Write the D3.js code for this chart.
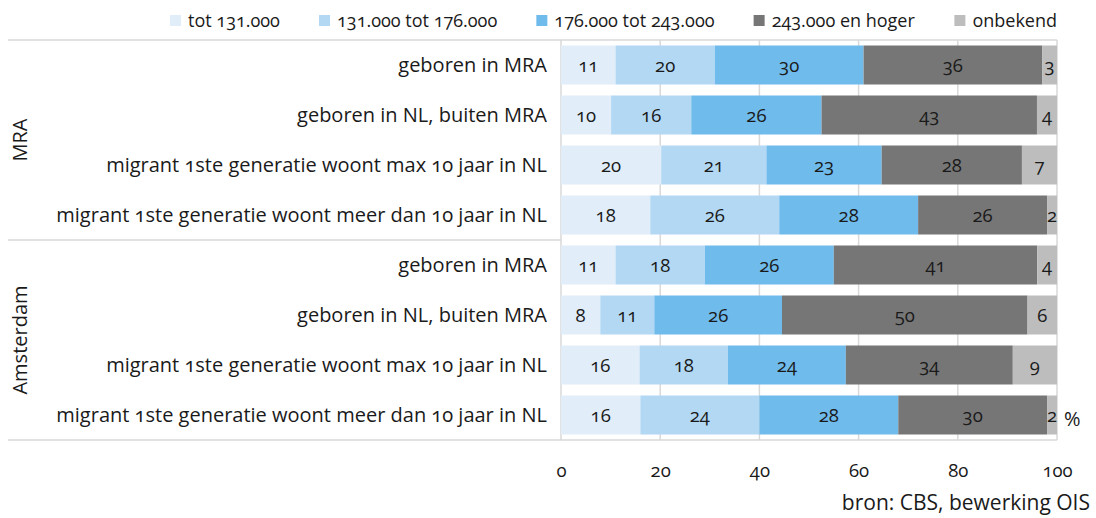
<!DOCTYPE html>
<html>
<head>
<meta charset="utf-8">
<script src="https://cdn.jsdelivr.net/npm/d3@7"></script>
<style>
body { margin: 0; background: #fff; }
svg text { font-family: "Open Sans", Lato, sans-serif; font-variant-ligatures: none; font-variant-numeric: oldstyle-nums; fill: #1a1a1a; }
</style>
</head>
<body>
<div id="chart"></div>
<script>
"use strict";

let groups = ["MRA", "Amsterdam"];
let categories = [
	"geboren in MRA",
	"geboren in NL, buiten MRA",
	"migrant 1ste generatie woont max 10 jaar in NL",
	"migrant 1ste generatie woont meer dan 10 jaar in NL"
];
let seriesNames = ["tot 131.000", "131.000 tot 176.000", "176.000 tot 243.000", "243.000 en hoger", "onbekend"];
let seriesColors = ["#e1eefa", "#b3d8f3", "#6fbbec", "#767676", "#bdbdbd"];

// one row per group+category, values per series (percent)
let valuesMRA = [
	[11, 20, 30, 36, 3],
	[10, 16, 26, 43, 4],
	[20, 21, 23, 28, 7],
	[18, 26, 28, 26, 2]
];
let valuesAmsterdam = [
	[11, 18, 26, 41, 4],
	[8, 11, 26, 50, 6],
	[16, 18, 24, 34, 9],
	[16, 24, 28, 30, 2]
];
let xTicks = [0, 20, 40, 60, 80, 100];

let width = 1096, height = 518;
let margin = { top: 40, right: 39, bottom: 78, left: 561 };
let labelSize = 20, numberSize = 18.5, legendSize = 18;

let rows = [];
[valuesMRA, valuesAmsterdam].forEach(function(vals, g)
{
	vals.forEach(function(v, i)
	{
		let row = { key: g + "-" + i, group: groups[g], label: categories[i] };
		seriesNames.forEach(function(s, j) { row[s] = v[j]; });
		rows.push(row);
	});
});

let svg = d3.select("#chart").append("svg")
	.attr("width", width)
	.attr("height", height);

let x = d3.scaleLinear().domain([0, 1]).range([margin.left, width - margin.right]);
let y = d3.scaleBand().domain(rows.map(function(d) { return d.key; }))
	.range([margin.top, height - margin.bottom])
	.paddingInner(0.22).paddingOuter(0.11);

let stack = d3.stack().keys(seriesNames).offset(d3.stackOffsetExpand);
let stacked = stack(rows);

// gridlines
svg.append("g")
	.selectAll("line")
	.data(xTicks)
	.enter().append("line")
	.attr("x1", function(d) { return x(d / 100); })
	.attr("x2", function(d) { return x(d / 100); })
	.attr("y1", margin.top)
	.attr("y2", height - margin.bottom)
	.attr("stroke", "#d9d9d9")
	.attr("stroke-width", 1.5);

// horizontal frame lines
let hLines = [margin.top, (margin.top + height - margin.bottom) / 2, height - margin.bottom];
svg.append("g")
	.selectAll("line")
	.data(hLines)
	.enter().append("line")
	.attr("x1", 8)
	.attr("x2", function(d, i) { return i == 1 ? margin.left : width - margin.right; })
	.attr("y1", function(d) { return d; })
	.attr("y2", function(d) { return d; })
	.attr("stroke", "#d9d9d9")
	.attr("stroke-width", 1.5);

// bars
let layers = svg.append("g")
	.selectAll("g")
	.data(stacked)
	.enter().append("g")
	.attr("fill", function(d, i) { return seriesColors[i]; });

layers.selectAll("rect")
	.data(function(d) { return d; })
	.enter().append("rect")
	.attr("x", function(d) { return x(d[0]); })
	.attr("width", function(d) { return x(d[1]) - x(d[0]); })
	.attr("y", function(d) { return y(d.data.key); })
	.attr("height", y.bandwidth());

// value labels
layers.each(function(layer)
{
	d3.select(this).selectAll("text")
		.data(layer)
		.enter().append("text")
		.attr("x", function(d) { return (x(d[0]) + x(d[1])) / 2; })
		.attr("y", function(d) { return y(d.data.key) + y.bandwidth() / 2; })
		.attr("dy", "0.4em")
		.attr("text-anchor", "middle")
		.attr("font-size", numberSize)
		.text(function(d) { return d.data[layer.key]; });
});

// category labels
svg.append("g")
	.selectAll("text")
	.data(rows)
	.enter().append("text")
	.attr("x", margin.left - 14)
	.attr("y", function(d) { return y(d.key) + y.bandwidth() / 2; })
	.attr("dy", "0.35em")
	.attr("text-anchor", "end")
	.attr("font-size", labelSize)
	.text(function(d) { return d.label; });

// group labels
groups.forEach(function(g)
{
	let keys = rows.filter(function(d) { return d.group == g; }).map(function(d) { return d.key; });
	let cy = (y(keys[0]) + y(keys[keys.length - 1]) + y.bandwidth()) / 2;
	svg.append("text")
		.attr("transform", "translate(20," + cy + ") rotate(-90)")
		.attr("dy", "0.35em")
		.attr("text-anchor", "middle")
		.attr("font-size", 20)
		.text(g);
});

// x axis
let xAxis = d3.axisBottom(d3.scaleLinear().domain([0, 100]).range(x.range()))
	.tickValues(xTicks)
	.tickSize(0)
	.tickPadding(24);
let axisG = svg.append("g")
	.attr("transform", "translate(0," + (height - margin.bottom) + ")")
	.call(xAxis);
axisG.select(".domain").remove();
axisG.selectAll("text")
	.attr("font-size", numberSize)
	.attr("font-family", null)
	.attr("fill", null);

// percent sign and source
svg.append("text")
	.attr("x", width - margin.right + 7)
	.attr("y", y(rows[rows.length - 1].key) + y.bandwidth() / 2)
	.attr("dy", "0.55em")
	.attr("font-size", 20)
	.text("%");

svg.append("text")
	.attr("x", width - 6)
	.attr("y", height - 8)
	.attr("text-anchor", "end")
	.attr("font-size", 21)
	.text("bron: CBS, bewerking OIS");

// legend
let legend = svg.append("g");
let items = legend.selectAll("g")
	.data(seriesNames)
	.enter().append("g");
items.append("rect")
	.attr("width", 11)
	.attr("height", 11)
	.attr("y", 15)
	.attr("fill", function(d, i) { return seriesColors[i]; });
items.append("text")
	.attr("x", 18)
	.attr("y", 21)
	.attr("dy", "0.35em")
	.attr("font-size", legendSize)
	.text(function(d) { return d; });

let itemWidths = [];
items.each(function() { itemWidths.push(this.getBBox().width); });
let legendStart = 170, legendEnd = width - margin.right;
let gap = (legendEnd - legendStart - d3.sum(itemWidths)) / (seriesNames.length - 1);
let pos = legendStart;
items.attr("transform", function(d, i)
{
	let t = "translate(" + pos + ",0)";
	pos += itemWidths[i] + gap;
	return t;
});
</script>
</body>
</html>
